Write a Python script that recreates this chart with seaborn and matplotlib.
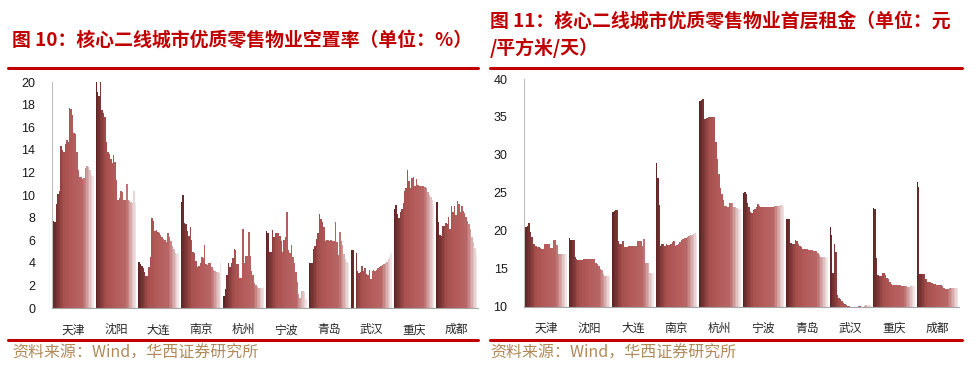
import numpy as np
import pandas as pd
import seaborn as sns
import matplotlib.pyplot as plt
from matplotlib.lines import Line2D

cities = ['天津', '沈阳', '大连', '南京', '杭州', '宁波', '青岛', '武汉', '重庆', '成都']

# vacancy rate (%), 28 periods per city
vacancy = {
    '天津': [7.7, 7.6, 9.2, 10.1, 10.4, 14.3, 14.0, 13.8, 14.5, 14.9, 14.7, 17.7, 17.6, 17.1,
           15.5, 15.4, 13.8, 12.2, 11.6, 11.6, 11.4, 11.5, 12.4, 12.6, 12.5, 12.2, 11.8, 11.7],
    '沈阳': [20.0, 19.1, 18.8, 20.0, 17.5, 17.3, 16.9, 14.7, 13.8, 13.6, 13.2, 12.8, 13.5, 12.9,
           11.3, 9.6, 9.7, 10.4, 10.3, 9.6, 9.6, 11.0, 9.6, 9.5, 9.4, 9.3, 10.4, 9.3],
    '大连': [4.1, 3.9, 3.7, 3.5, 3.2, 2.8, 2.8, 3.6, 4.5, 8.0, 7.7, 6.8, 6.9, 6.7,
           6.6, 6.5, 6.3, 6.1, 6.0, 5.8, 6.6, 6.3, 5.9, 5.5, 5.2, 4.9, 4.8, 4.9],
    '南京': [9.4, 10.0, 7.5, 7.4, 6.8, 6.4, 7.2, 6.0, 5.0, 4.9, 4.2, 3.6, 3.7, 4.0,
           4.5, 4.4, 5.6, 3.9, 3.8, 4.0, 4.0, 3.6, 3.4, 3.3, 3.2, 3.2, 3.1, 4.1],
    '杭州': [1.1, 1.7, 2.9, 4.0, 3.6, 4.0, 4.4, 5.2, 5.1, 3.9, 3.9, 2.7, 2.7, 7.0,
           4.0, 4.6, 4.6, 6.7, 4.6, 3.3, 2.9, 2.2, 2.0, 1.9, 1.8, 1.8, 1.8, 1.9],
    '宁波': [6.8, 6.6, 5.0, 5.0, 6.9, 6.3, 6.6, 6.6, 6.6, 6.4, 5.9, 5.0, 6.0, 6.3,
           8.5, 5.1, 4.9, 5.6, 4.5, 4.0, 3.2, 2.3, 1.2, 0.9, 1.5, 1.5, 1.4, 0.8],
    '青岛': [4.0, 4.0, 4.0, 5.2, 5.5, 6.1, 6.6, 8.3, 7.9, 7.6, 7.2, 5.9, 6.0, 6.0,
           5.9, 6.0, 5.9, 5.9, 7.6, 5.8, 4.7, 6.7, 5.9, 5.6, 4.8, 4.3, 4.1, 4.0],
    '武汉': [5.1, 5.1, 0.0, 4.9, 3.3, 3.1, 3.2, 3.7, 3.3, 3.5, 3.0, 2.9, 3.4, 2.6,
           3.3, 3.4, 3.3, 3.4, 3.5, 3.6, 3.7, 3.8, 3.9, 4.0, 4.1, 4.3, 4.5, 4.9],
    '重庆': [8.8, 9.1, 8.3, 8.0, 8.5, 8.8, 9.3, 10.4, 10.6, 12.2, 11.2, 10.6, 11.5, 11.6,
           10.8, 11.4, 10.9, 10.8, 10.8, 10.8, 10.8, 10.7, 10.6, 10.3, 10.0, 9.8, 9.6, 9.2],
    '成都': [9.4, 7.6, 6.5, 6.4, 7.3, 7.3, 7.5, 7.4, 8.1, 7.0, 9.0, 8.5, 9.0, 8.2,
           9.5, 9.2, 8.5, 9.0, 8.6, 8.4, 8.1, 7.7, 7.4, 7.0, 6.3, 5.8, 5.3, 4.8],
}

# ground-floor rent (yuan / sqm / day)
rent = {
    '天津': [20.5, 20.6, 21.0, 19.9, 19.2, 18.3, 18.2, 18.0, 17.9, 17.8, 17.7, 17.6, 17.6, 18.3,
           18.3, 18.2, 18.2, 17.7, 17.7, 18.8, 18.8, 18.1, 16.9, 16.9, 16.9, 17.0, 17.0, 17.0],
    '沈阳': [19.0, 18.8, 18.8, 18.8, 16.5, 16.3, 16.2, 16.1, 16.1, 16.2, 16.3, 16.3, 16.3, 16.3,
           16.3, 16.3, 16.3, 16.3, 15.7, 15.6, 15.3, 15.0, 14.8, 14.3, 14.1, 14.1, 14.1, 14.1],
    '大连': [22.5, 22.6, 22.7, 22.8, 18.7, 18.2, 18.2, 18.7, 17.8, 17.8, 17.9, 18.0, 18.0, 18.0,
           18.0, 18.0, 18.0, 18.7, 18.7, 18.7, 18.0, 18.9, 15.7, 15.7, 15.7, 14.4, 14.4, 14.4],
    '南京': [28.9, 27.0, 23.4, 18.0, 18.2, 18.2, 18.0, 18.2, 18.1, 18.1, 18.2, 18.5, 18.7, 18.0,
           18.1, 18.2, 18.5, 18.8, 18.9, 19.0, 19.1, 19.2, 19.3, 19.4, 19.5, 19.6, 19.7, 19.5],
    '杭州': [37.1, 37.2, 37.4, 34.7, 34.7, 34.8, 35.0, 35.0, 35.0, 35.0, 35.0, 31.7, 29.5, 27.5,
           25.7, 24.8, 24.0, 23.3, 23.3, 23.2, 23.6, 23.6, 23.6, 23.2, 23.1, 23.0, 22.9, 22.9],
    '宁波': [25.0, 25.1, 24.8, 23.6, 23.2, 22.5, 22.4, 22.8, 22.9, 23.2, 23.5, 23.3, 23.2, 23.2,
           23.1, 23.1, 23.1, 23.2, 23.2, 23.2, 23.2, 23.3, 23.3, 23.3, 23.3, 23.4, 23.4, 23.3],
    '青岛': [21.6, 21.6, 21.6, 18.4, 18.2, 18.2, 18.8, 18.6, 18.2, 18.0, 17.9, 17.6, 17.6, 17.6,
           17.6, 17.5, 17.5, 17.5, 17.4, 17.4, 17.3, 17.1, 16.8, 16.6, 16.5, 16.5, 16.5, 16.4],
    '武汉': [20.5, 19.5, 14.4, 18.2, 17.2, 11.5, 11.2, 11.0, 10.8, 10.5, 10.4, 10.2, 10.1, 10.1,
           10.0, 10.0, 10.0, 10.0, 10.0, 10.1, 10.1, 10.0, 10.0, 10.1, 10.2, 10.1, 10.2, 10.2],
    '重庆': [23.0, 22.9, 16.4, 14.2, 14.0, 14.1, 14.5, 14.4, 14.2, 13.8, 13.6, 13.2, 13.0, 12.9,
           12.8, 12.8, 12.8, 12.8, 12.8, 12.7, 12.7, 12.7, 12.7, 12.6, 12.6, 12.7, 12.7, 12.7],
    '成都': [26.4, 25.8, 14.3, 14.3, 14.3, 14.3, 13.7, 13.3, 13.2, 13.2, 13.1, 13.0, 13.0, 12.9,
           12.9, 12.8, 12.9, 12.7, 12.5, 12.3, 12.3, 12.3, 12.4, 12.4, 12.5, 12.5, 12.5, 12.5],
}

left_title = '图 10：核心二线城市优质零售物业空置率（单位：%）'
right_title = '图 11：核心二线城市优质零售物业首层租金（单位：元\n/平方米/天）'
source = '资料来源：Wind，华西证券研究所'

red = '#c00000'
n = 28
periods = list(range(n))
palette = sns.blend_palette(['#6a1c1c', '#b54240', '#c24e4c', '#c65858', '#f3e3e3'], n)

sns.set_style('white')
plt.rcParams['font.family'] = ['Liberation Sans', 'Noto Sans CJK SC']

fig = plt.figure(figsize=(9.76, 3.68), dpi=100)


def to_long(d):
    rows = []
    for c in cities:
        for i, v in enumerate(d[c]):
            rows.append({'city': c, 'period': i, 'value': v})
    return pd.DataFrame(rows)


def draw(ax, d, ylim, yticks):
    sns.barplot(data=to_long(d), x='city', y='value', hue='period', hue_order=periods,
                order=cities, palette=palette, dodge=True, width=0.955, errorbar=None,
                linewidth=0, legend=False, ax=ax)
    # pixel-snap the bars so neighbours touch without seams
    for p in ax.patches:
        p.set_antialiased(False)
        p.set_linewidth(0)
    ax.set_ylim(*ylim)
    ax.set_xlim(-0.5, len(cities) - 0.5)
    ax.set_yticks(yticks)
    ax.set_xlabel('')
    ax.set_ylabel('')
    for s in ['top', 'right']:
        ax.spines[s].set_visible(False)
    ax.spines['left'].set_color('#bfbfbf')
    ax.spines['bottom'].set_color('#a6a6a6')
    ax.tick_params(axis='y', length=3, color='#bfbfbf', labelsize=9, pad=9, labelcolor='#1a1a1a')
    ax.tick_params(axis='x', which='major', length=0, labelsize=8.5, pad=11, labelcolor='#262626')
    ax.set_xticks(np.arange(-0.5, len(cities), 1), minor=True)
    ax.tick_params(axis='x', which='minor', length=4, color='#a6a6a6')
    for lab in ax.get_xticklabels():
        lab.set_family(['Noto Sans CJK SC'])
    ax.grid(False)


ax1 = fig.add_axes([0.0533, 0.163, 0.4365, 0.614])
draw(ax1, vacancy, (0, 20), range(0, 21, 2))

ax2 = fig.add_axes([0.537, 0.1666, 0.4456, 0.6187])
draw(ax2, rent, (10, 40), range(10, 41, 5))

# titles
fig.text(12 / 976, 1 - 40 / 368, left_title, color=red, fontsize=13.6, fontweight='bold',
         va='center', ha='left', family=['Noto Sans CJK SC'])
fig.text(490 / 976, 1 - 35 / 368, right_title, color=red, fontsize=13.6, fontweight='bold',
         va='center', ha='left', linespacing=1.4, family=['Noto Sans CJK SC'])

# red rules
for x0, x1 in [(8, 478), (490, 962)]:
    for y in [68, 340]:
        fig.add_artist(Line2D([x0 / 976, x1 / 976], [1 - y / 368, 1 - y / 368],
                              color=red, lw=2.2, transform=fig.transFigure))

# sources
for x in [12, 490]:
    fig.text(x / 976, 1 - 353 / 368, source, color='#b08a5a', fontsize=11.5,
             va='center', ha='left', family=['Noto Sans CJK SC'])

fig.savefig('out.png', dpi=100)
